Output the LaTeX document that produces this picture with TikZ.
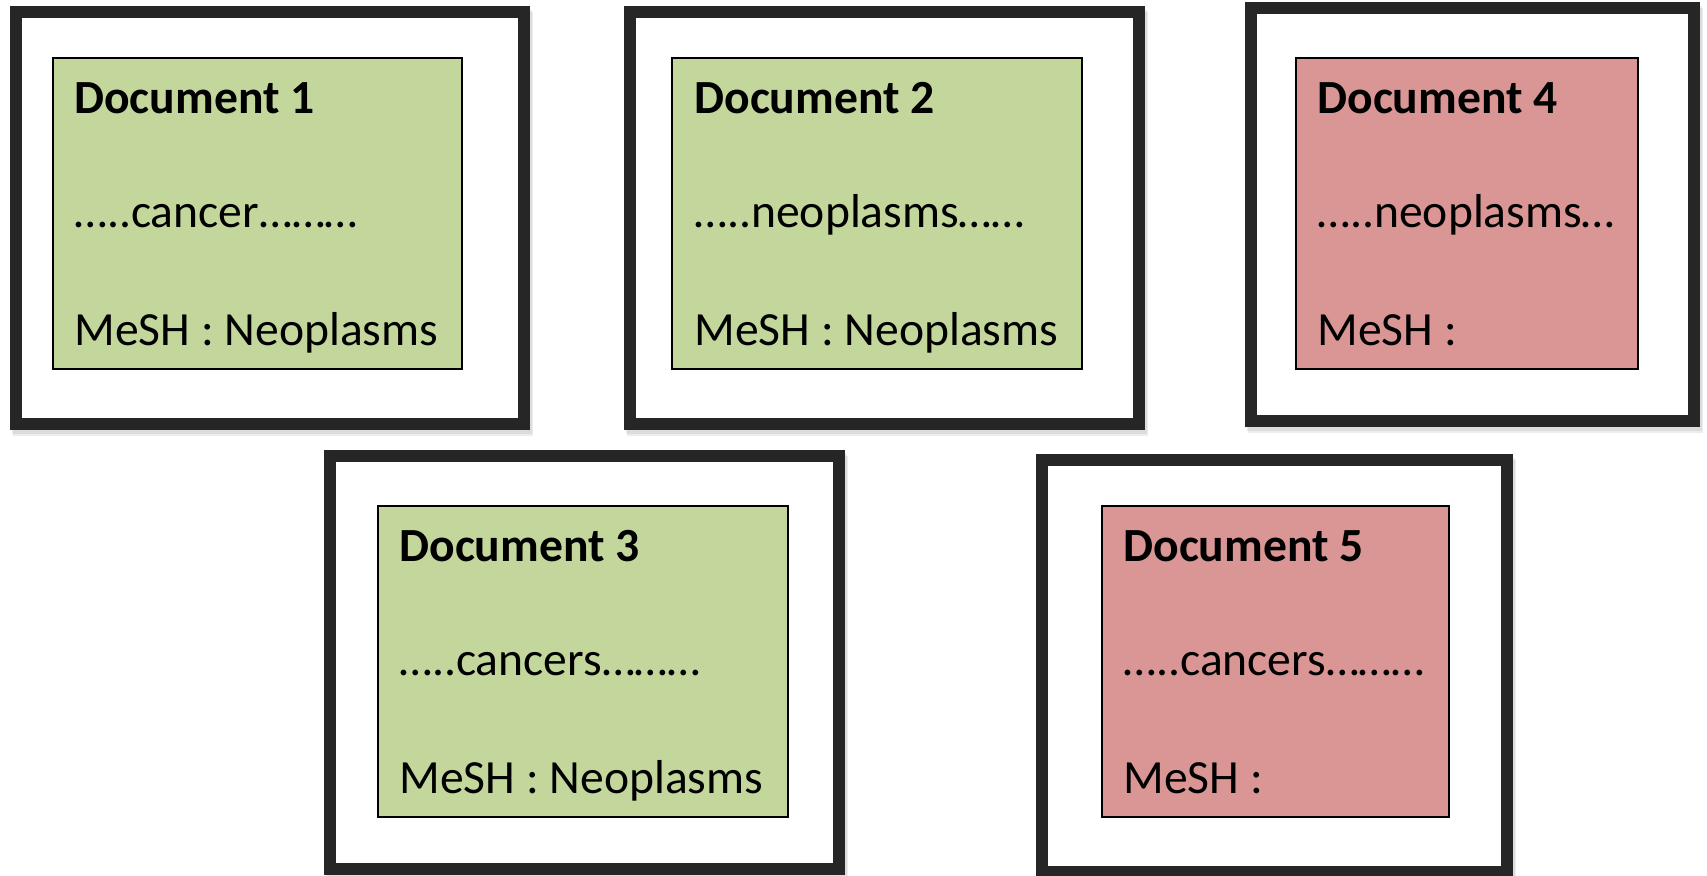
\documentclass[tikz,border=0pt]{standalone}
\usepackage{fontspec}
\setmainfont{Carlito}
\definecolor{framec}{HTML}{262626}
\definecolor{greenc}{HTML}{C3D69B}
\definecolor{redc}{HTML}{D99694}
\tikzset{
  frameline/.style={draw=framec, line width=6pt, fill=white},
  shadowline/.style={draw=black, line width=6pt, opacity=0.07},
  greenbox/.style={draw=black, line width=0.8pt, fill=greenc},
  redbox/.style={draw=black, line width=0.8pt, fill=redc},
  titletext/.style={anchor=base west, inner sep=0pt, font=\fontsize{23.8}{28}\selectfont\bfseries},
  bodytext/.style={anchor=base west, inner sep=0pt, font=\fontsize{23.8}{28}\selectfont},
}
\begin{document}
\begin{tikzpicture}[x=0.5pt,y=-0.5pt]
\useasboundingbox (0,0) rectangle (1707,875);
% shadows
\foreach \a/\b/\c/\d in {16/12/524/424, 630/12/1139/424, 1251/8/1694/421, 330/456/839/869, 1042/460/1507/872}{
  \draw[shadowline] (\a+2,\b+4) rectangle (\c+2,\d+4);
  \draw[shadowline] (\a+3,\b+6) rectangle (\c+3,\d+6);
}
% frames
\draw[frameline] (16,12) rectangle (524,424);
\draw[frameline] (630,12) rectangle (1139,424);
\draw[frameline] (1251,8) rectangle (1694,421);
\draw[frameline] (330,456) rectangle (839,869);
\draw[frameline] (1042,460) rectangle (1507,872);
% boxes
\draw[greenbox] (53,58) rectangle (462,369);
\draw[greenbox] (672,58) rectangle (1082,369);
\draw[redbox] (1296,58) rectangle (1638,369);
\draw[greenbox] (378,506) rectangle (788,817);
\draw[redbox] (1102,506) rectangle (1449,817);
% texts
\node[titletext] (t1) at (74,113) {Document 1};
\node[bodytext] (m1) at (74,227) {…..cancer………};
\node[bodytext] (s1) at (74,345) {MeSH : Neoplasms};
\node[titletext] (t2) at (694,113) {Document 2};
\node[bodytext] (m2) at (694,227) {…..neoplasms……};
\node[bodytext] (s2) at (694,345) {MeSH : Neoplasms};
\node[titletext] (t4) at (1317,113) {Document 4};
\node[bodytext] (m4) at (1317,227) {…..neoplasms…};
\node[bodytext] (s4) at (1317,345) {MeSH :};
\node[titletext] (t3) at (399,561) {Document 3};
\node[bodytext] (m3) at (399,675) {…..cancers………};
\node[bodytext] (s3) at (399,793) {MeSH : Neoplasms};
\node[titletext] (t5) at (1123,561) {Document 5};
\node[bodytext] (m5) at (1123,675) {…..cancers………};
\node[bodytext] (s5) at (1123,793) {MeSH :};
\end{tikzpicture}
\end{document}
